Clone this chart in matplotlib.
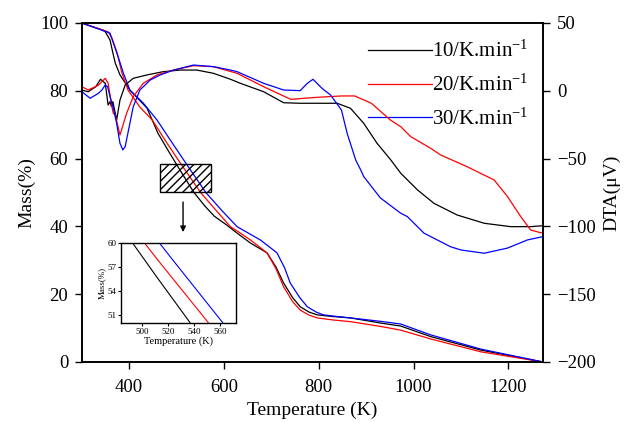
import matplotlib
matplotlib.use("Agg")
import matplotlib.pyplot as plt
from matplotlib.patches import Rectangle

plt.rcParams['font.family'] = ['Liberation Serif', 'DejaVu Serif']
plt.rcParams['mathtext.fontset'] = 'custom'
plt.rcParams['mathtext.rm'] = 'Liberation Serif'
plt.rcParams['mathtext.it'] = 'Liberation Serif:italic'

# TG curves (temperature K, mass %)
t_mass_10 = [301, 345, 350, 360, 366, 371, 381, 402, 438, 461, 485, 512, 537, 560, 580,
             606, 630, 656, 691, 710, 726, 745, 761, 780, 797, 830, 867, 930, 973, 1036, 1142, 1273]
mass_10 = [99.9, 97.9, 97.4, 95.0, 91.2, 88.2, 84.7, 80.2, 74.9, 67.5, 61.8, 55.6, 50.0, 46.0, 43.0,
           40.4, 37.8, 35.1, 32.2, 28.0, 23.3, 19.0, 16.3, 14.7, 13.9, 13.4, 13.0, 11.5, 10.6, 7.5, 3.5, 0.0]

t_mass_20 = [301, 356, 364, 375, 385, 398, 423, 449, 480, 512, 551, 580, 614, 635, 656,
             691, 710, 726, 745, 761, 780, 797, 830, 867, 930, 973, 1036, 1142, 1273]
mass_20 = [100.0, 97.4, 95.6, 91.2, 85.3, 80.2, 75.2, 71.4, 64.6, 57.9, 50.0, 45.3, 39.9, 38.0, 36.0,
           32.2, 27.5, 22.2, 17.8, 15.3, 13.8, 13.0, 12.4, 11.9, 10.5, 9.4, 6.8, 3.0, 0.0]

t_mass_30 = [301, 360, 366, 377, 388, 402, 430, 459, 487, 523, 562, 595, 628, 652, 677,
             712, 728, 740, 760, 776, 795, 810, 840, 867, 930, 973, 1036, 1142, 1273]
mass_30 = [100.0, 97.0, 94.5, 90.1, 85.3, 80.2, 76.4, 71.4, 65.5, 58.0, 50.0, 44.8, 39.9, 38.0, 36.0,
           32.2, 27.8, 23.3, 19.0, 16.3, 14.7, 13.9, 13.4, 13.0, 12.0, 11.2, 8.0, 3.8, 0.0]

# DTA curves (temperature K, signal uV)
t_dta_10 = [301, 314, 330, 340, 350, 356, 360, 363, 366, 371, 374, 381, 392, 409, 438, 472, 508,
            543, 578, 614, 635, 684, 726, 760, 839, 867, 895, 923, 952, 973, 1008, 1043, 1092,
            1149, 1205, 1247, 1272]
dta_10 = [0.5, -0.7, 3.0, 8.5, 5.5, -10.5, -8.0, -11.7, -8.0, -16.4, -21.5, -6.8, 4.3, 9.2, 11.7,
          14.1, 15.3, 15.3, 12.9, 8.5, 5.5, -0.7, -8.8, -9.2, -9.2, -12.9, -24.0, -38.7, -51.0,
          -60.8, -73.0, -83.0, -91.6, -97.7, -100.2, -100.2, -99.5]

t_dta_20 = [301, 314, 335, 350, 356, 364, 367, 371, 381, 395, 409, 430, 459, 494, 536, 578, 628,
            684, 741, 797, 848, 876, 911, 951, 973, 994, 1036, 1057, 1113, 1170, 1198, 1226,
            1247, 1272]
dta_20 = [3.0, 0.6, 4.0, 9.2, 5.5, -11.7, -16.6, -17.8, -32.6, -16.6, -4.3, 5.5, 11.7, 15.3, 18.5,
          17.8, 12.9, 3.0, -6.3, -4.8, -3.8, -3.8, -9.2, -21.5, -26.5, -33.8, -42.4, -47.3, -56.0,
          -65.8, -78.0, -92.8, -102.7, -105.0]

t_dta_30 = [301, 318, 335, 343, 350, 355, 360, 367, 374, 381, 387, 392, 399, 409, 423, 445, 466,
            494, 536, 578, 614, 628, 684, 726, 761, 776, 788, 807, 825, 848, 860, 878, 888, 895,
            930, 973, 987, 1022, 1078, 1100, 1149, 1198, 1240, 1272]
dta_30 = [-0.7, -5.5, -2.0, 0.6, 4.3, 3.0, -4.3, -12.9, -24.0, -38.7, -43.6, -41.2, -29.0, -11.7,
          0.6, 8.0, 11.7, 15.3, 19.0, 17.8, 15.3, 14.1, 5.5, 0.6, 0.1, 5.5, 8.5, 1.8, -3.1, -14.2,
          -31.4, -51.0, -58.0, -63.3, -79.0, -90.3, -92.8, -105.0, -115.0, -117.4, -119.8,
          -116.0, -110.0, -107.6]

labels = ['10/K.min$^{-1}$', '20/K.min$^{-1}$', '30/K.min$^{-1}$']
colors = ['black', 'red', 'blue']

fig = plt.figure(figsize=(6.31, 4.22), dpi=100)
ax1 = fig.add_axes([0.13, 0.1422, 0.7306, 0.8033])
ax2 = ax1.twinx()

mass_sets = [(t_mass_10, mass_10), (t_mass_20, mass_20), (t_mass_30, mass_30)]
dta_sets = [(t_dta_10, dta_10), (t_dta_20, dta_20), (t_dta_30, dta_30)]

handles = []
for (t, m), lab, c in zip(mass_sets, labels, colors):
    h, = ax1.plot(t, m, color=c, lw=0.9, label=lab)
    handles.append(h)
for (t, d), c in zip(dta_sets, colors):
    ax2.plot(t, d, color=c, lw=0.9)

ax1.set_xlim(301, 1273)
ax1.set_ylim(0, 100)
ax2.set_ylim(-200, 50)
ax1.set_xticks([400, 600, 800, 1000, 1200])
ax1.set_yticks([0, 20, 40, 60, 80, 100])
ax2.set_yticks([-200, -150, -100, -50, 0, 50])

ax1.set_xlabel('Temperature (K)', fontsize=14, labelpad=4)
ax1.set_ylabel('Mass(%)', fontsize=14, labelpad=3)
ax2.set_ylabel('DTA(μV)', fontsize=14, labelpad=5)

for ax in (ax1, ax2):
    ax.tick_params(direction='out', length=5, width=1, labelsize=13.5, pad=5)
    for s in ax.spines.values():
        s.set_linewidth(1.2)
ax1.tick_params(axis='x', pad=7)
ax1.tick_params(top=False)

ax1.legend(handles=handles, loc='upper right', frameon=False, fontsize=15,
           handlelength=3.1, handletextpad=0.0, labelspacing=0.6,
           borderaxespad=0.3, bbox_to_anchor=(1.0, 0.99))

# hatched zoom window and arrow to the inset
ax1.add_patch(Rectangle((465, 50), 108, 8.5, fill=False, hatch='////',
                        edgecolor='black', lw=1.0, zorder=5))
ax1.annotate('', xy=(514, 37.5), xytext=(514, 48),
             arrowprops=dict(arrowstyle='-|>', color='black', lw=1.0,
                             mutation_scale=8))

# inset: close-up of the mass loss near 500-570 K
axin = fig.add_axes([0.1918, 0.2346, 0.1823, 0.1896])
for (t, m), c in zip(mass_sets, colors):
    axin.plot(t, m, color=c, lw=0.8)
axin.set_xlim(484, 572)
axin.set_ylim(50, 60)
axin.set_xticks([500, 520, 540, 560])
axin.set_yticks([51, 54, 57, 60])
axin.tick_params(direction='out', length=2, width=0.8, labelsize=6.5, pad=1.5)
for s in axin.spines.values():
    s.set_linewidth(1.0)
axin.set_xlabel('Temperature (K)', fontsize=7.5, labelpad=0.5)
axin.set_ylabel('Mass(%)', fontsize=6.5, labelpad=1)

fig.savefig('out.png', dpi=100)
